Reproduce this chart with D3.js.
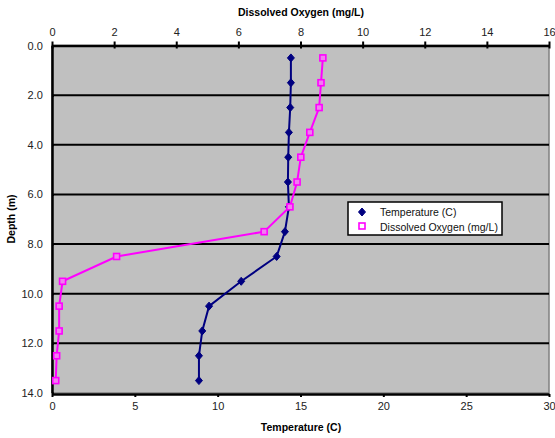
<!DOCTYPE html>
<html>
<head>
<meta charset="utf-8">
<script src="https://cdn.jsdelivr.net/npm/d3@7"></script>
<style>
  html, body { margin: 0; padding: 0; background: #fff; }
  svg { display: block; font-family: "Liberation Sans", Arial, sans-serif; }
</style>
</head>
<body>
<svg id="chart" width="555" height="438"></svg>
<script>
// Depth profile: temperature and dissolved oxygen
const depths = [0.5, 1.5, 2.5, 3.5, 4.5, 5.5, 6.5, 7.5, 8.5, 9.5, 10.5, 11.5, 12.5, 13.5];
const temperature = [14.42, 14.42, 14.38, 14.3, 14.26, 14.24, 14.3, 14.06, 13.56, 11.42, 9.48, 9.07, 8.87, 8.87];
const dissolvedOxygen = [8.72, 8.66, 8.6, 8.3, 8.01, 7.89, 7.66, 6.83, 2.08, 0.34, 0.23, 0.23, 0.15, 0.12];
const depthTicks = [0, 2, 4, 6, 8, 10, 12, 14];
const tempTicks = [0, 5, 10, 15, 20, 25, 30];
const oxyTicks = [0, 2, 4, 6, 8, 10, 12, 14, 16];
const seriesNames = ["Temperature (C)", "Dissolved Oxygen (mg/L)"];

const svg = d3.select("#chart");
const plot = { left: 52, right: 549, top: 45.5, bottom: 393 };

const y = d3.scaleLinear().domain([0, 14]).range([plot.top, plot.bottom]);
const xT = d3.scaleLinear().domain([0, 30]).range([plot.left, plot.right]);
const xO = d3.scaleLinear().domain([0, 16]).range([plot.left, plot.right]);

// plot background
svg.append("rect").attr("x", plot.left).attr("y", plot.top)
  .attr("width", plot.right - plot.left).attr("height", plot.bottom - plot.top)
  .attr("fill", "#c0c0c0").attr("stroke", "#808080").attr("stroke-width", 1.5);

// horizontal gridlines
svg.append("g").selectAll("line").data(depthTicks.filter(d => d > 0 && d < 14)).join("line")
  .attr("x1", plot.left).attr("x2", plot.right)
  .attr("y1", d => y(d)).attr("y2", d => y(d))
  .attr("stroke", "#000").attr("stroke-width", 2);

// axes
const fmtDepth = d3.format(".1f");
const gLeft = svg.append("g").attr("transform", `translate(${plot.left},0)`)
  .call(d3.axisLeft(y).tickValues(depthTicks).tickFormat(fmtDepth).tickSize(5).tickSizeOuter(0));
const gTop = svg.append("g").attr("transform", `translate(0,${plot.top})`)
  .call(d3.axisTop(xO).tickValues(oxyTicks).tickFormat(d3.format("d")).tickSize(4).tickSizeOuter(0));
const gBottom = svg.append("g").attr("transform", `translate(0,${plot.bottom + 1})`)
  .call(d3.axisBottom(xT).tickValues(tempTicks).tickFormat(d3.format("d")).tickSize(3).tickSizeOuter(0));

[gLeft, gTop, gBottom].forEach(g => {
  g.select(".domain").attr("stroke", "#000").attr("stroke-width", 2.5);
  g.selectAll(".tick line").attr("stroke", "#000").attr("stroke-width", 2);
  g.selectAll(".tick text").attr("fill", "#222").attr("font-size", 11)
    .attr("font-family", "'Liberation Sans', Arial, sans-serif");
});
// top ticks cross the axis line
gTop.selectAll(".tick line").attr("y1", 3);
gLeft.selectAll(".tick line").attr("x2", 2);
gTop.selectAll(".tick text").attr("dy", "-0.25em");
gBottom.selectAll(".tick text").attr("dy", "0.9em");
gLeft.selectAll(".tick text").attr("dx", "-0.1em");

// axis titles
svg.append("text").attr("x", 301).attr("y", 16).attr("text-anchor", "middle")
  .attr("font-size", 10.5).attr("font-weight", "bold").text("Dissolved Oxygen (mg/L)");
svg.append("text").attr("x", 301).attr("y", 431).attr("text-anchor", "middle")
  .attr("font-size", 10.5).attr("font-weight", "bold").text("Temperature (C)");
svg.append("text").attr("transform", "translate(15,219) rotate(-90)").attr("text-anchor", "middle")
  .attr("font-size", 10.5).attr("font-weight", "bold").text("Depth (m)");

// series lines
const tempLine = d3.line().x(d => xT(d)).y((d, i) => y(depths[i]));
const oxyLine = d3.line().x(d => xO(d)).y((d, i) => y(depths[i]));

svg.append("path").datum(temperature).attr("d", tempLine)
  .attr("fill", "none").attr("stroke", "#000080").attr("stroke-width", 2);
svg.append("path").datum(dissolvedOxygen).attr("d", oxyLine)
  .attr("fill", "none").attr("stroke", "#ff00ff").attr("stroke-width", 2);

// markers: compact navy diamonds, magenta squares
const marker = "M0,-4L3.5,0L0,4L-3.5,0Z";
svg.append("g").selectAll("path").data(temperature).join("path")
  .attr("transform", (d, i) => `translate(${xT(d)},${y(depths[i])})`)
  .attr("d", marker).attr("fill", "#000080").attr("stroke", "#000080")
  .attr("stroke-width", 1).attr("stroke-linejoin", "round");

svg.append("g").selectAll("rect").data(dissolvedOxygen).join("rect")
  .attr("x", d => xO(d) - 3).attr("y", (d, i) => y(depths[i]) - 3)
  .attr("width", 6).attr("height", 6)
  .attr("fill", "#f080f0").attr("stroke", "#ff00ff").attr("stroke-width", 1.6);

// legend
const lg = svg.append("g").attr("transform", "translate(348,202)");
lg.append("rect").attr("width", 154).attr("height", 33)
  .attr("fill", "#fff").attr("stroke", "#000").attr("stroke-width", 1.5);
lg.append("path").attr("transform", "translate(14,10)").attr("d", marker)
  .attr("fill", "#000080").attr("stroke", "#000080").attr("stroke-linejoin", "round");
lg.append("rect").attr("x", 11).attr("y", 21).attr("width", 6).attr("height", 6)
  .attr("fill", "#fff").attr("stroke", "#ff00ff").attr("stroke-width", 1.6);
lg.selectAll("text.lbl").data(seriesNames).join("text").attr("class", "lbl")
  .attr("x", 32).attr("y", (d, i) => 14 + i * 15)
  .attr("font-size", 10.5).attr("fill", "#111").text(d => d);
</script>
</body>
</html>
